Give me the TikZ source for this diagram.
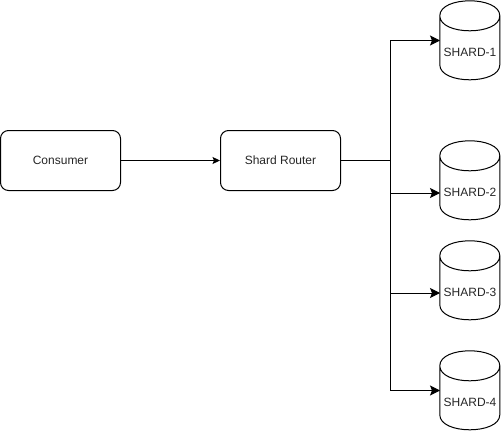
\documentclass[tikz,border=0pt]{standalone}
\usepackage{fontspec}
\setmainfont{Liberation Sans}
\usetikzlibrary{arrows.meta}
\tikzset{
  box/.style={draw=black,rounded corners=8pt,minimum width=120pt,minimum height=60pt,inner sep=0pt,font=\fontsize{12}{14}\selectfont,line width=1pt,text=black!85},
  shard/.style={rectangle,minimum width=60pt,minimum height=79pt,inner sep=0pt},
  shardtext/.style={font=\fontsize{12}{14}\selectfont,text=black!85,inner sep=0pt,yshift=-12pt},
  cyl/.style={draw=black,line width=1pt,line join=round},
  smallhead/.style={draw=black,line width=1pt,-{Stealth[length=7.5pt,width=7pt,inset=1.5pt]}},
  bighead/.style={draw=black,line width=1pt,-{Stealth[length=10pt,width=10pt,inset=2pt]}},
  linkplain/.style={draw=black,line width=1pt}
}
\newcommand{\cylbody}[1]{%
  \draw[cyl] (#1.north west) ++(0,15) .. controls +(0,-20) and +(0,-20) .. ++(60,0)
    .. controls +(0,20) and +(0,20) .. ++(-60,0) -- ++(0,49)
    .. controls +(0,20) and +(0,20) .. ++(60,0) -- ++(0,-49);}
\begin{document}
\begin{tikzpicture}[x=1pt,y=-1pt]
\useasboundingbox (0,0) rectangle (501,431);
\node[box] (consumer) at (60.5,160.5) {Consumer};
\node[box] (router) at (280.5,160.5) {Shard Router};
\node[shard,label={[shardtext]center:SHARD-1}] (s1) at (470,40.5) {};
\node[shard,label={[shardtext]center:SHARD-2}] (s2) at (470,180.5) {};
\node[shard,label={[shardtext]center:SHARD-3}] (s3) at (470,280.5) {};
\node[shard,label={[shardtext]center:SHARD-4}] (s4) at (470,390.5) {};
\cylbody{s1}\cylbody{s2}\cylbody{s3}\cylbody{s4}
\coordinate (trunk) at (390.5,160.5);
\coordinate (t1) at (390.5,40.5);
\coordinate (t2) at (390.5,193);
\coordinate (t3) at (390.5,293);
\coordinate (t4) at (390.5,390.5);
\coordinate (e1) at (440,40.5);
\coordinate (e2) at (440,193);
\coordinate (e3) at (440,293);
\coordinate (e4) at (440,390.5);
\draw[smallhead] (consumer) -- (router);
\draw[linkplain] (router) -- (trunk);
\draw[bighead] (trunk) -- (t1) -- (e1);
\draw[bighead] (trunk) -- (t4) -- (e4);
\draw[bighead] (t2) -- (e2);
\draw[bighead] (t3) -- (e3);
\end{tikzpicture}
\end{document}
